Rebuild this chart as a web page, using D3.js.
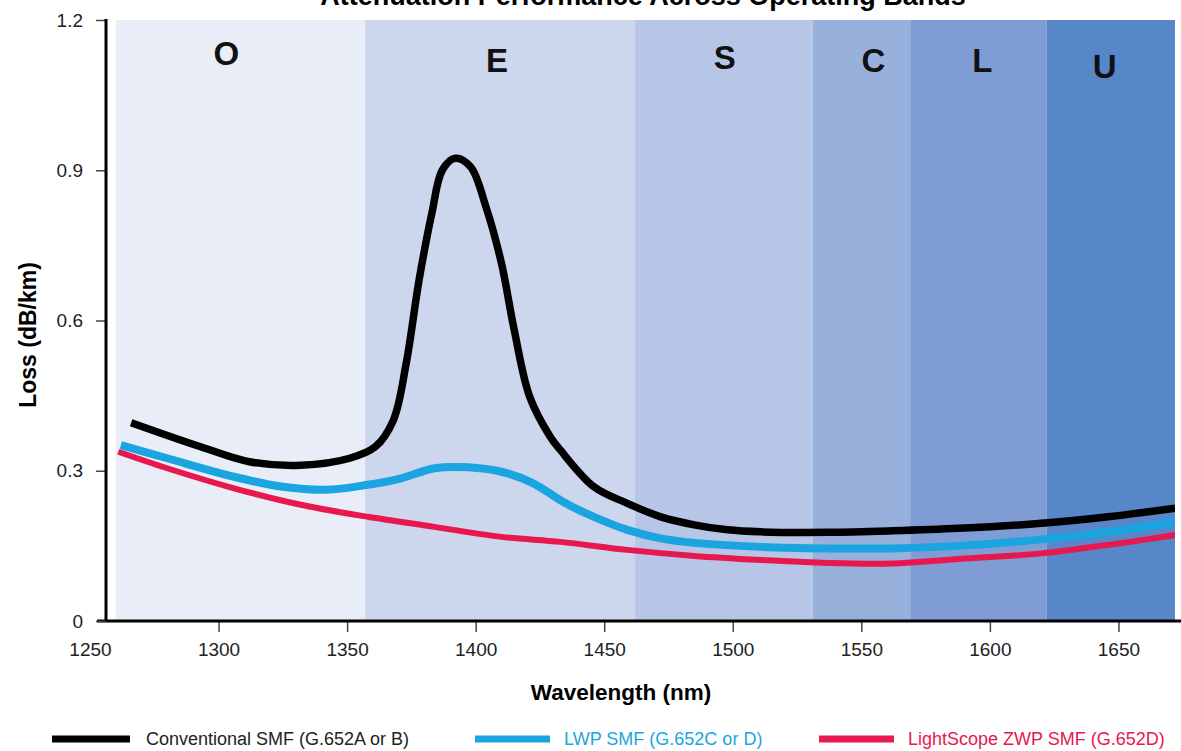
<!DOCTYPE html>
<html>
<head>
<meta charset="utf-8">
<script src="https://cdn.jsdelivr.net/npm/d3@7"></script>
<style>
    body { margin: 0; background: #fff; }
    svg { display: block; font-family: "Liberation Sans", Arial, sans-serif; }
</style>
</head>
<body>
<div id="chart"></div>
<script>
// bands (nm)
var bandNames  = ['O', 'E', 'S', 'C', 'L', 'U'];
var bandEdges  = [1260, 1357, 1462, 1531, 1569, 1622, 1672];
var bandColors = ['#e8edf7', '#ccd6ec', '#b7c6e6', '#97b1dc', '#7f9dd4', '#5787c8'];

var xTicks = [1250, 1300, 1350, 1400, 1450, 1500, 1550, 1600, 1650];
var yTicks = [0, 0.3, 0.6, 0.9, 1.2];

var seriesNames  = ['Conventional SMF (G.652A or B)', 'LWP SMF (G.652C or D)', 'LightScope ZWP SMF (G.652D)'];
var seriesColors = ['#000000', '#1ba5e0', '#e8174d'];

// conventional SMF, big water peak
var conventionalNm   = [1266, 1293, 1312, 1332, 1351, 1361, 1368, 1373, 1378, 1383, 1387, 1392, 1398, 1404, 1410, 1415, 1421, 1429, 1433, 1446, 1459, 1472, 1485, 1498, 1511, 1537, 1562, 1588, 1620, 1646, 1672];
var conventionalLoss = [0.396, 0.348, 0.318, 0.311, 0.325, 0.348, 0.401, 0.515, 0.681, 0.815, 0.900, 0.924, 0.907, 0.827, 0.715, 0.581, 0.448, 0.368, 0.341, 0.268, 0.235, 0.208, 0.192, 0.182, 0.178, 0.177, 0.180, 0.185, 0.195, 0.208, 0.225];

// low water peak
var lwpNm   = [1262, 1280, 1306, 1325, 1342, 1358, 1371, 1384, 1397, 1410, 1422, 1435, 1446, 1459, 1472, 1485, 1511, 1537, 1562, 1588, 1620, 1646, 1672];
var lwpLoss = [0.351, 0.325, 0.288, 0.268, 0.262, 0.272, 0.285, 0.305, 0.307, 0.298, 0.276, 0.235, 0.208, 0.182, 0.165, 0.156, 0.148, 0.145, 0.145, 0.150, 0.163, 0.178, 0.198];

// zero water peak
var zwpNm   = [1261, 1280, 1306, 1332, 1358, 1384, 1410, 1433, 1459, 1485, 1511, 1537, 1562, 1588, 1620, 1646, 1672];
var zwpLoss = [0.338, 0.305, 0.265, 0.232, 0.208, 0.188, 0.168, 0.158, 0.142, 0.130, 0.122, 0.116, 0.115, 0.124, 0.135, 0.152, 0.172];

(function(){
    window.lossChart = {
	width: 1181,
	height: 751,
	plot: {left: 106, right: 1175, top: 20, bottom: 621},
	generate: function(id){
	    var graph = {id: id};
	    graph.svg = d3.select('#' + id).append('svg')
		.attr('width', this.width).attr('height', this.height);

	    // x scale runs a bit left of the y axis (1250 sits under it)
	    graph.x = d3.scaleLinear().domain([1250, 1672]).range([90, this.plot.right]);
	    graph.y = d3.scaleLinear().domain([0, 1.2]).range([this.plot.bottom, this.plot.top]);

	    graph.svg.append('clipPath').attr('id', 'plotclip')
		.append('rect')
		.attr('x', this.plot.left).attr('y', this.plot.top)
		.attr('width', this.plot.right - this.plot.left)
		.attr('height', this.plot.bottom - this.plot.top);

	    this.drawBands(graph);
	    this.drawLines(graph);
	    this.drawAxes(graph);
	    this.drawText(graph);
	    this.drawLegend(graph);
	    return graph;
	},
	drawBands: function(graph){
	    var x = graph.x, y = graph.y;
	    var bands = bandNames.map(function(n, i){
		return {name: n, x0: bandEdges[i], x1: bandEdges[i + 1], color: bandColors[i]};
	    });
	    graph.svg.append('g').selectAll('rect').data(bands).enter().append('rect')
		.attr('x', function(d){ return x(d.x0) })
		.attr('width', function(d){ return x(d.x1) - x(d.x0) })
		.attr('y', y(1.2))
		.attr('height', y(0) - y(1.2))
		.style('fill', function(d){ return d.color });

	    // letters are not quite centred in the original
	    var shift = [-14, -3, 1, 12, 4, -6];
	    var lift  = [53, 60, 57, 60, 60, 66];
	    graph.svg.append('g').selectAll('text').data(bands).enter().append('text')
		.attr('x', function(d, i){ return (x(d.x0) + x(d.x1)) / 2 + shift[i] })
		.attr('y', function(d, i){ return lift[i] })
		.attr('dy', '.36em')
		.style('text-anchor', 'middle')
		.style('font-weight', 'bold')
		.style('font-size', '33px')
		.style('fill', '#111')
		.text(function(d){ return d.name });
	},
	drawLines: function(graph){
	    var x = graph.x, y = graph.y;
	    var series = [
		{name: seriesNames[0], nm: conventionalNm, loss: conventionalLoss, color: seriesColors[0], w: 7.5},
		{name: seriesNames[1], nm: lwpNm, loss: lwpLoss, color: seriesColors[1], w: 8},
		{name: seriesNames[2], nm: zwpNm, loss: zwpLoss, color: seriesColors[2], w: 6}
	    ];
	    var line = d3.line()
		.x(function(d){ return x(d[0]) })
		.y(function(d){ return y(d[1]) })
		.curve(d3.curveCatmullRom.alpha(0.5));

	    // draw back to front: red under blue under black
	    graph.svg.append('g').attr('clip-path', 'url(#plotclip)')
		.selectAll('path').data(series.slice().reverse()).enter().append('path')
		.attr('d', function(d){ return line(d3.zip(d.nm, d.loss)) })
		.style('fill', 'none')
		.style('stroke', function(d){ return d.color })
		.style('stroke-width', function(d){ return d.w })
		.style('stroke-linejoin', 'round');
	    graph.series = series;
	},
	drawAxes: function(graph){
	    var p = this.plot;

	    var xa = graph.svg.append('g')
		.attr('transform', 'translate(0,' + p.bottom + ')')
		.call(d3.axisBottom(graph.x).tickValues(xTicks).tickSize(11).tickFormat(d3.format('d')));
	    xa.select('.domain').remove();
	    xa.selectAll('line').style('stroke', '#444').style('stroke-width', 1.5)
		.filter(function(d){ return d === 1250 }).remove();
	    xa.selectAll('text').attr('y', 22).style('font-size', '19px').style('fill', '#222');
	    xa.append('line').attr('x1', 97).attr('x2', this.width).attr('y1', 0).attr('y2', 0)
		.style('stroke', '#000').style('stroke-width', 3);

	    var ya = graph.svg.append('g')
		.attr('transform', 'translate(' + p.left + ',0)')
		.call(d3.axisLeft(graph.y).tickValues(yTicks).tickSize(10).tickPadding(13)
		      .tickFormat(function(d){ return d === 0 ? '0' : d3.format('.1f')(d) }));
	    ya.select('.domain').remove();
	    ya.selectAll('line').style('stroke', '#444').style('stroke-width', 1.5);
	    ya.selectAll('text').style('font-size', '19px').style('fill', '#222');
	    ya.append('line').attr('x1', 0).attr('x2', 0).attr('y1', p.top - 1).attr('y2', p.bottom)
		.style('stroke', '#000').style('stroke-width', 3);
	},
	drawText: function(graph){
	    // title is cropped at the top edge in the original too
	    graph.svg.append('text')
		.attr('x', 643).attr('y', 5)
		.style('text-anchor', 'middle').style('font-weight', 'bold').style('font-size', '27px')
		.text('Attenuation Performance Across Operating Bands');

	    graph.svg.append('text')
		.attr('x', 621).attr('y', 692).attr('dy', '.35em')
		.style('text-anchor', 'middle').style('font-weight', 'bold').style('font-size', '22.5px')
		.text('Wavelength (nm)');

	    graph.svg.append('text')
		.attr('transform', 'translate(28,335) rotate(-90)')
		.attr('dy', '.35em')
		.style('text-anchor', 'middle').style('font-weight', 'bold').style('font-size', '23px')
		.text('Loss (dB/km)');
	},
	drawLegend: function(graph){
	    var pos = [52, 475, 819];
	    var items = graph.svg.append('g').attr('transform', 'translate(0,739)')
		.selectAll('g').data(graph.series).enter().append('g')
		.attr('transform', function(d, i){ return 'translate(' + pos[i] + ',0)' });
	    items.append('line')
		.attr('x1', 0).attr('x2', function(d, i){ return i === 0 ? 78 : 75 })
		.style('stroke', function(d){ return d.color })
		.style('stroke-width', 7);
	    items.append('text')
		.attr('x', function(d, i){ return i === 0 ? 94 : 89 })
		.attr('dy', '.35em')
		.style('font-size', '18px')
		.style('fill', function(d, i){ return i === 0 ? '#222' : d.color })
		.text(function(d){ return d.name });
	}
    }
    window.lossChart.generate('chart');
})()
</script>
</body>
</html>
